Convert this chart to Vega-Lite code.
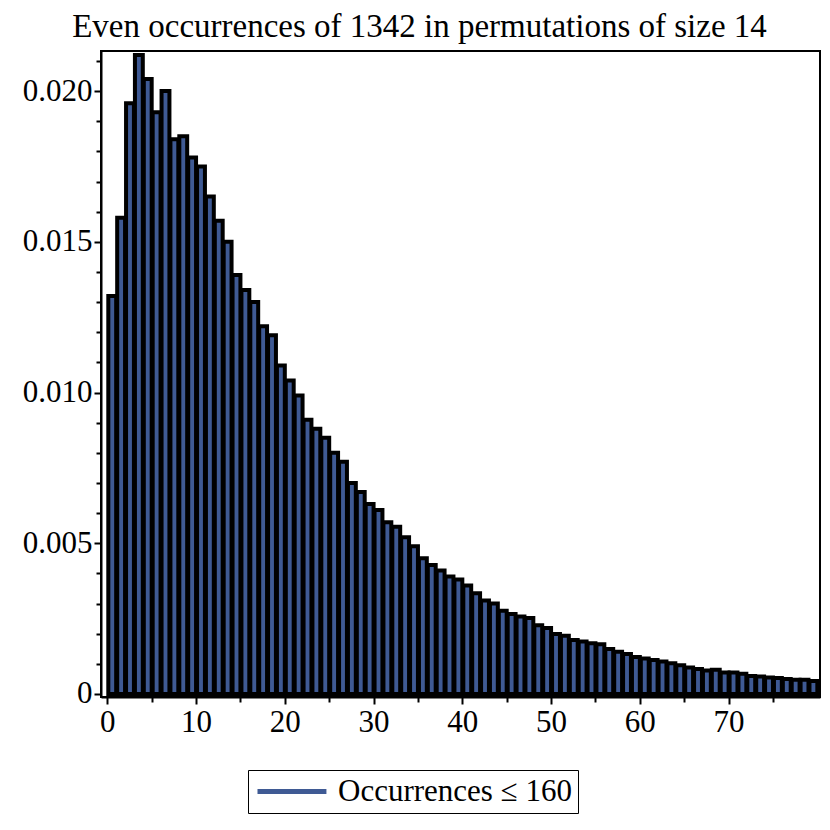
{
  "$schema": "https://vega.github.io/schema/vega-lite/v6.json",
  "autosize": "none",
  "width": 719,
  "height": 646,
  "padding": {"left": 101, "top": 51, "right": 10, "bottom": 133},
  "background": "white",
  "title": {
    "text": "Even occurrences of 1342 in permutations of size 14",
    "font": "Liberation Serif",
    "fontSize": 33,
    "fontWeight": "normal",
    "color": "black",
    "anchor": "middle",
    "baseline": "alphabetic",
    "offset": -25,
    "dx": -41
  },
  "config": {
    "view": {"stroke": "black", "strokeWidth": 2},
    "axis": {
      "domainColor": "black",
      "domainWidth": 2,
      "tickColor": "black",
      "tickWidth": 2,
      "grid": false,
      "labelFont": "Liberation Serif",
      "labelFontSize": 31,
      "labelColor": "black",
      "title": null
    }
  },
  "data": {
    "values": [
      {"k": 0, "p": 0.0132}, {"k": 1, "p": 0.0158}, {"k": 2, "p": 0.0196}, {"k": 3, "p": 0.0212},
      {"k": 4, "p": 0.0204}, {"k": 5, "p": 0.0193}, {"k": 6, "p": 0.0200}, {"k": 7, "p": 0.0184},
      {"k": 8, "p": 0.0185}, {"k": 9, "p": 0.0178}, {"k": 10, "p": 0.0175}, {"k": 11, "p": 0.0165},
      {"k": 12, "p": 0.0157}, {"k": 13, "p": 0.0150}, {"k": 14, "p": 0.0139}, {"k": 15, "p": 0.0134},
      {"k": 16, "p": 0.0130}, {"k": 17, "p": 0.0122}, {"k": 18, "p": 0.0119}, {"k": 19, "p": 0.0109},
      {"k": 20, "p": 0.0104}, {"k": 21, "p": 0.0099}, {"k": 22, "p": 0.0091}, {"k": 23, "p": 0.0088},
      {"k": 24, "p": 0.0085}, {"k": 25, "p": 0.0080}, {"k": 26, "p": 0.0077}, {"k": 27, "p": 0.0070},
      {"k": 28, "p": 0.0067}, {"k": 29, "p": 0.0063}, {"k": 30, "p": 0.0061}, {"k": 31, "p": 0.0057},
      {"k": 32, "p": 0.00555}, {"k": 33, "p": 0.0052}, {"k": 34, "p": 0.0049}, {"k": 35, "p": 0.0045},
      {"k": 36, "p": 0.00428}, {"k": 37, "p": 0.0041}, {"k": 38, "p": 0.0039}, {"k": 39, "p": 0.0038},
      {"k": 40, "p": 0.0036}, {"k": 41, "p": 0.00334}, {"k": 42, "p": 0.0031}, {"k": 43, "p": 0.0030},
      {"k": 44, "p": 0.00276}, {"k": 45, "p": 0.00265}, {"k": 46, "p": 0.00257}, {"k": 47, "p": 0.00252},
      {"k": 48, "p": 0.00228}, {"k": 49, "p": 0.00219}, {"k": 50, "p": 0.00199}, {"k": 51, "p": 0.00193},
      {"k": 52, "p": 0.00179}, {"k": 53, "p": 0.00174}, {"k": 54, "p": 0.00168}, {"k": 55, "p": 0.00165},
      {"k": 56, "p": 0.00149}, {"k": 57, "p": 0.0014}, {"k": 58, "p": 0.00133}, {"k": 59, "p": 0.00123},
      {"k": 60, "p": 0.00118}, {"k": 61, "p": 0.00113}, {"k": 62, "p": 0.00108}, {"k": 63, "p": 0.00102},
      {"k": 64, "p": 0.00095}, {"k": 65, "p": 0.00088}, {"k": 66, "p": 0.00083}, {"k": 67, "p": 0.00078},
      {"k": 68, "p": 0.0008}, {"k": 69, "p": 0.00071}, {"k": 70, "p": 0.00071}, {"k": 71, "p": 0.00067},
      {"k": 72, "p": 0.0006}, {"k": 73, "p": 0.00058}, {"k": 74, "p": 0.00055}, {"k": 75, "p": 0.00053},
      {"k": 76, "p": 0.0005}, {"k": 77, "p": 0.00047}, {"k": 78, "p": 0.00047}, {"k": 79, "p": 0.00043}
    ]
  },
  "mark": {"type": "bar", "stroke": "black", "strokeWidth": 4, "opacity": 1},
  "encoding": {
    "x": {
      "field": "k",
      "type": "quantitative",
      "bin": {"binned": true, "step": 1},
      "scale": {"domain": [-0.71, 80.3], "nice": false, "zero": false},
      "axis": {
        "values": [0, 5, 10, 15, 20, 25, 30, 35, 40, 45, 50, 55, 60, 65, 70, 75],
        "labelExpr": "datum.value % 10 === 0 ? datum.value : ''",
        "tickSize": {"expr": "datum.value % 10 === 0 ? 7 : 5"},
        "labelPadding": 3,
        "labelFlush": false,
        "labelOverlap": false
      }
    },
    "y": {
      "field": "p",
      "type": "quantitative",
      "scale": {"domain": [-0.0001, 0.02133], "nice": false, "zero": false},
      "axis": {
        "values": [0, 0.001, 0.002, 0.003, 0.004, 0.005, 0.006, 0.007, 0.008, 0.009, 0.010, 0.011, 0.012, 0.013, 0.014, 0.015, 0.016, 0.017, 0.018, 0.019, 0.020, 0.021],
        "labelExpr": "round(datum.value * 1000) % 5 === 0 ? (datum.value === 0 ? '0' : format(datum.value, '.3f')) : ''",
        "tickSize": {"expr": "round(datum.value * 1000) % 5 === 0 ? 7 : 5"},
        "labelPadding": 2,
        "labelOverlap": false,
        "labelFlush": false
      }
    },
    "y2": {"datum": 0},
    "fill": {
      "datum": "Occurrences ≤ 160",
      "type": "nominal",
      "scale": {"range": ["#3f5a94"]},
      "legend": {
        "title": null,
        "orient": "none",
        "legendX": 147,
        "legendY": 719,
        "symbolType": "M-2.09,0H9.91",
        "symbolSize": 132,
        "symbolStrokeWidth": 5,
        "symbolStrokeColor": "#3f5a94",
        "labelFont": "Liberation Serif",
        "labelFontSize": 31,
        "labelColor": "black",
        "labelOffset": 53,
        "labelLimit": 500,
        "strokeColor": "black",
        "padding": 6,
        "encode": {
          "symbols": {"update": {"stroke": {"value": "#3f5a94"}, "strokeWidth": {"value": 5}, "opacity": {"value": 1}}},
          "legend": {"update": {"strokeWidth": {"value": 2}}}
        }
      }
    }
  }
}
